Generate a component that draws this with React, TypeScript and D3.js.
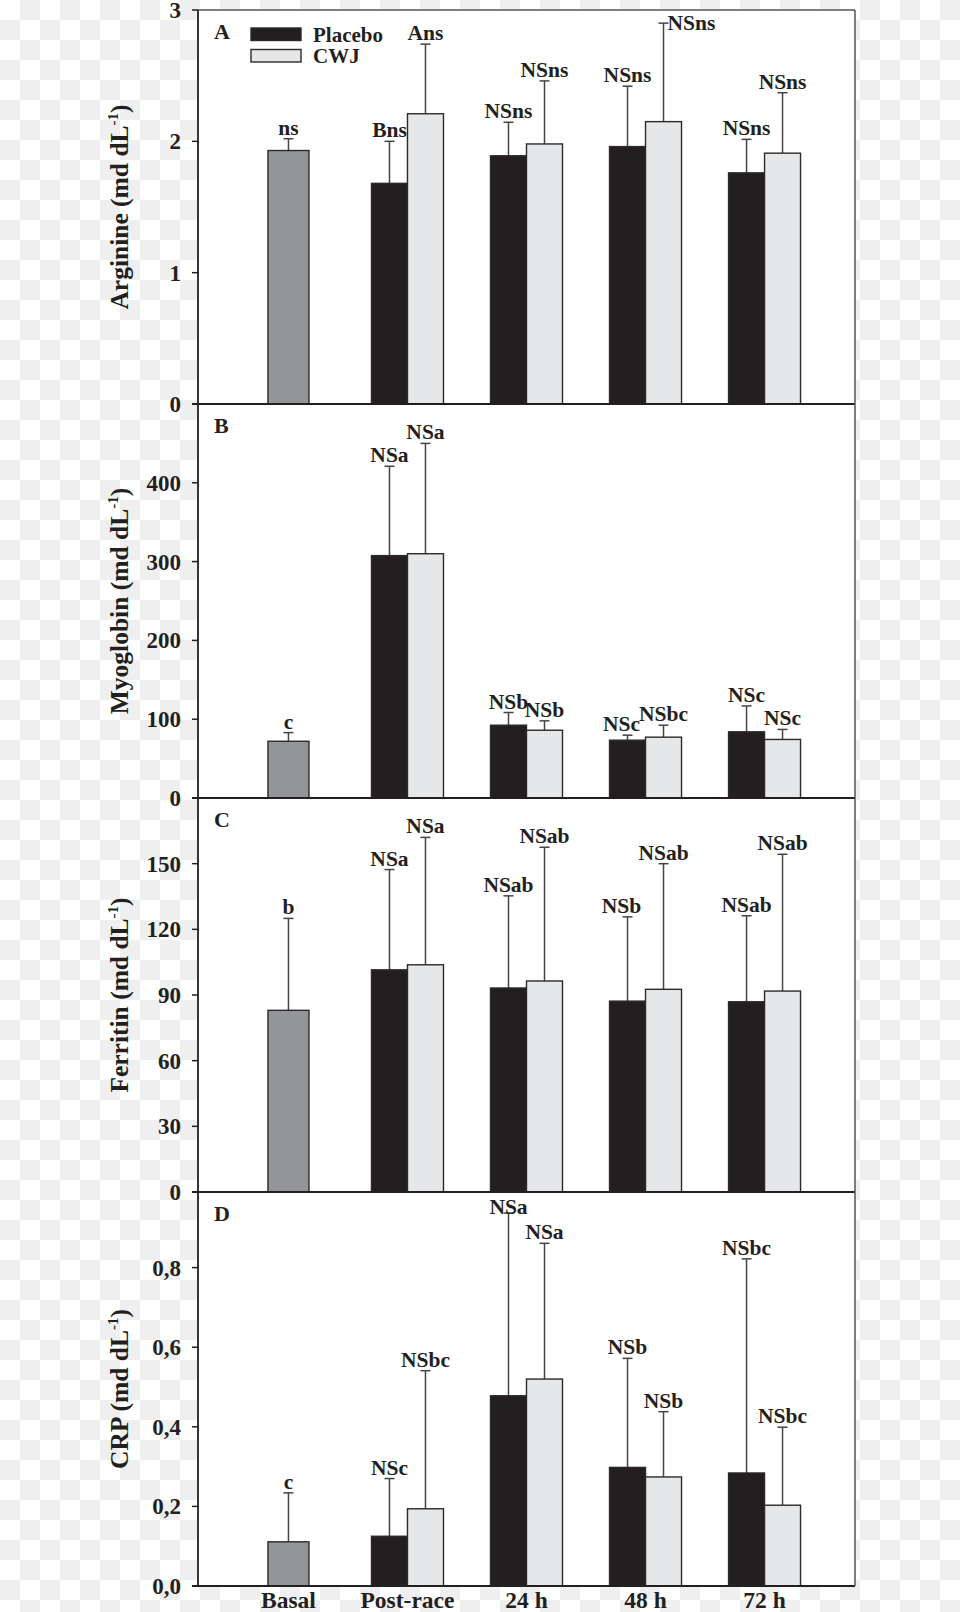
import React from "react";
import * as d3 from "d3";

const categories = ["Basal", "Post-race", "24 h", "48 h", "72 h"];
const groups = ["Placebo", "CWJ"];

// Arginine
const arginineBasal = 1.93;
const arginineBasalSd = 0.09;
const argininePlacebo = [1.68, 1.89, 1.96, 1.76];
const argininePlaceboSd = [0.32, 0.255, 0.46, 0.255];
const arginineCwj = [2.21, 1.98, 2.15, 1.91];
const arginineCwjSd = [0.53, 0.48, 0.75, 0.46];
const arginineLabels = ["ns", "Bns", "NSns", "NSns", "NSns"];
const arginineCwjLabels = ["Ans", "NSns", "NSns", "NSns"];

// Myoglobin
const myoBasal = 72;
const myoBasalSd = 11;
const myoPlacebo = [307.6, 92.4, 73.4, 84];
const myoPlaceboSd = [113.4, 16.1, 6.3, 32.8];
const myoCwj = [310, 86, 77.2, 74.3];
const myoCwjSd = [140, 11.9, 15.2, 12.7];
const myoLabels = ["c", "NSa", "NSb", "NSc", "NSc"];
const myoCwjLabels = ["NSa", "NSb", "NSbc", "NSc"];

// Ferritin
const ferBasal = 83;
const ferBasalSd = 42;
const ferPlacebo = [101.5, 93.2, 87.2, 86.9];
const ferPlaceboSd = [45.8, 42.1, 38.5, 39.3];
const ferCwj = [103.8, 96.4, 92.6, 91.8];
const ferCwjSd = [58.2, 61.1, 57.4, 62.5];
const ferLabels = ["b", "NSa", "NSab", "NSb", "NSab"];
const ferCwjLabels = ["NSa", "NSab", "NSab", "NSab"];

// CRP
const crpBasal = 0.111;
const crpBasalSd = 0.123;
const crpPlacebo = [0.125, 0.478, 0.298, 0.284];
const crpPlaceboSd = [0.145, 0.459, 0.274, 0.538];
const crpCwj = [0.194, 0.52, 0.274, 0.203];
const crpCwjSd = [0.347, 0.341, 0.164, 0.196];
const crpLabels = ["c", "NSc", "NSa", "NSb", "NSbc"];
const crpCwjLabels = ["NSbc", "NSa", "NSb", "NSbc"];

const argTicks = [0, 1, 2, 3];
const myoTicks = [0, 100, 200, 300, 400];
const ferTicks = [0, 30, 60, 90, 120, 150];
const crpTicks = [0, 0.2, 0.4, 0.6, 0.8];

const panels = [
  { letter: "A", title: "Arginine", max: 3, ticks: argTicks, fmt: (d: number) => String(d),
    basal: arginineBasal, basalSd: arginineBasalSd, placebo: argininePlacebo, placeboSd: argininePlaceboSd,
    cwj: arginineCwj, cwjSd: arginineCwjSd, labels: arginineLabels, cwjLabels: arginineCwjLabels },
  { letter: "B", title: "Myoglobin", max: 500, ticks: myoTicks, fmt: (d: number) => String(d),
    basal: myoBasal, basalSd: myoBasalSd, placebo: myoPlacebo, placeboSd: myoPlaceboSd,
    cwj: myoCwj, cwjSd: myoCwjSd, labels: myoLabels, cwjLabels: myoCwjLabels },
  { letter: "C", title: "Ferritin", max: 180, ticks: ferTicks, fmt: (d: number) => String(d),
    basal: ferBasal, basalSd: ferBasalSd, placebo: ferPlacebo, placeboSd: ferPlaceboSd,
    cwj: ferCwj, cwjSd: ferCwjSd, labels: ferLabels, cwjLabels: ferCwjLabels },
  { letter: "D", title: "CRP", max: 0.99, ticks: crpTicks, fmt: (d: number) => d3.format(".1f")(d).replace(".", ","),
    basal: crpBasal, basalSd: crpBasalSd, placebo: crpPlacebo, placeboSd: crpPlaceboSd,
    cwj: crpCwj, cwjSd: crpCwjSd, labels: crpLabels, cwjLabels: crpCwjLabels },
];

const W = 960;
const H = 1612;
const left = 198;
const right = 855;
const top = 10;
const bottom = 1586;
const panelH = (bottom - top) / 4;
const font = "'Liberation Serif', 'Times New Roman', serif";
const colors = { basal: "#939598", Placebo: "#231f20", CWJ: "#e6e7e8" };

const x = d3.scalePoint<string>().domain(categories).range([left, right]).padding(0.76);
const barW = 36;
const basalW = 41;

function Bar({ cx, w, v, sd, label, y, fill, nudge }: any) {
  const yTop = y(v);
  const yCap = y(v + sd);
  const ly = nudge === "right" ? yCap + 7 : nudge === "on" ? yCap + 1 : yCap - 4;
  const lx = nudge === "right" ? cx + 4 : nudge === "left" ? cx - 6 : cx;
  return (
    <g>
      <line x1={cx} x2={cx} y1={yTop} y2={yCap} stroke="#444" strokeWidth={1.5} />
      <line x1={cx - 5} x2={cx + 5} y1={yCap} y2={yCap} stroke="#444" strokeWidth={1.5} />
      <rect x={cx - w / 2} y={yTop} width={w} height={y(0) - yTop} fill={fill} stroke="#2a2a2a" strokeWidth={1.4} />
      <text x={lx} y={ly} textAnchor={nudge === "right" ? "start" : "middle"}
        fontFamily={font} fontWeight="bold" fontSize={21.5} fill="#231f20">{label}</text>
    </g>
  );
}

export default function App() {
  return (
    <div style={{ position: "absolute", left: 0, top: 0 }}>
      <svg width={W} height={H}>
        <defs>
          <pattern id="chk" width={40} height={40} patternUnits="userSpaceOnUse">
            <rect width={40} height={40} fill="#ffffff" />
            <rect x={20} y={0} width={20} height={20} fill="#efefef" />
            <rect x={0} y={20} width={20} height={20} fill="#efefef" />
          </pattern>
        </defs>
        <rect width={W} height={H} fill="url(#chk)" />
        <rect x={left} y={top} width={right - left} height={bottom - top} fill="#fff" />
        {panels.map((p, pi) => {
          const pTop = top + pi * panelH;
          const pBot = pTop + panelH;
          const y = d3.scaleLinear().domain([0, p.max]).range([pBot, pTop]);
          const mid = (pTop + pBot) / 2;
          return (
            <g key={p.letter}>
              {p.ticks.map((t) => (
                <g key={t}>
                  <line x1={left - 6} x2={left} y1={y(t)} y2={y(t)} stroke="#231f20" strokeWidth={1.5} />
                  <text x={left - 17} y={y(t)} dy="0.35em" textAnchor="end" fontFamily={font}
                    fontWeight="bold" fontSize={23} fill="#231f20">{p.fmt(t)}</text>
                </g>
              ))}
              <text transform={`translate(128,${mid}) rotate(-90)`} textAnchor="middle" fontFamily={font}
                fontWeight="bold" fontSize={25.5} fill="#231f20">
                {p.title} (md dL<tspan dy={-10} fontSize={15}>-1</tspan><tspan dy={10}>)</tspan>
              </text>
              <text x={214} y={pTop + 29} fontFamily={font} fontWeight="bold" fontSize={22} fill="#231f20">{p.letter}</text>
              <Bar cx={x(categories[0])} w={basalW} v={p.basal} sd={p.basalSd} label={p.labels[0]} y={y} fill={colors.basal} />
              {categories.slice(1).map((c, i) => (
                <g key={c}>
                  <Bar cx={(x(c) as number) - barW / 2} w={barW} v={p.placebo[i]} sd={p.placeboSd[i]}
                    label={p.labels[i + 1]} y={y} fill={colors.Placebo}
                    nudge={pi === 3 && i === 1 ? "on" : (pi === 1 || pi === 2) && i === 2 ? "left" : undefined} />
                  <Bar cx={(x(c) as number) + barW / 2} w={barW} v={p.cwj[i]} sd={p.cwjSd[i]}
                    label={p.cwjLabels[i]} y={y} fill={colors.CWJ} nudge={pi === 0 && i === 2 ? "right" : undefined} />
                </g>
              ))}
              <line x1={left - 6} x2={right} y1={pBot} y2={pBot} stroke="#231f20" strokeWidth={2} />
            </g>
          );
        })}
        <line x1={left} x2={right} y1={top} y2={top} stroke="#555" strokeWidth={1.3} />
        <line x1={right} x2={right} y1={top} y2={bottom} stroke="#555" strokeWidth={1.5} />
        <line x1={left} x2={left} y1={top} y2={bottom} stroke="#231f20" strokeWidth={1.8} />
        {groups.map((g, i) => (
          <g key={g}>
            <rect x={251} y={28 + i * 21.5} width={50} height={12.5} fill={colors[g as "Placebo" | "CWJ"]}
              stroke="#2a2a2a" strokeWidth={1.4} />
            <text x={313} y={41.5 + i * 21.5} fontFamily={font} fontWeight="bold" fontSize={21} fill="#231f20">{g}</text>
          </g>
        ))}
        {categories.map((c) => (
          <text key={c} x={x(c)} y={1608} textAnchor="middle" fontFamily={font} fontWeight="bold"
            fontSize={23.5} fill="#231f20">{c}</text>
        ))}
      </svg>
    </div>
  );
}
